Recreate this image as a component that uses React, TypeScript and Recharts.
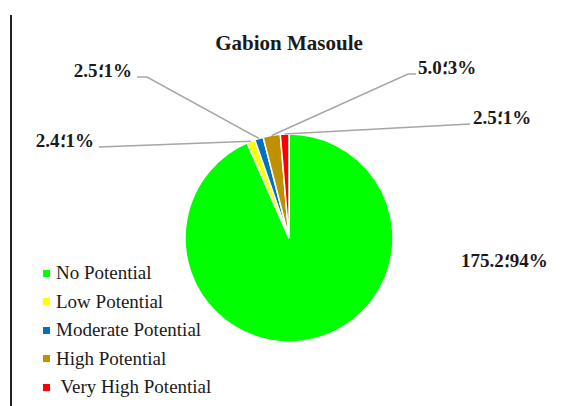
import { PieChart, Pie, Cell } from "recharts";

const categories = [
  "No Potential",
  "Low Potential",
  "Moderate Potential",
  "High Potential",
  " Very High Potential",
];
const values = [175.2, 2.4, 2.5, 5.0, 2.5];
const percentLabels = [94, 1, 1, 3, 1];
const colors = ["#00FF00", "#FFFF00", "#0070C0", "#BF9000", "#FF0000"];

const data = categories.map((name, i) => ({
  name,
  value: values[i],
  pct: percentLabels[i],
}));

const SERIF = "'Liberation Serif', 'DejaVu Serif', serif";
const RAD = Math.PI / 180;

// where each data label sits and how its leader line bends
const labelSpots: { x: number; y: number; anchor: "start" | "end"; bend: number[][] | null }[] = [
  { x: 461, y: 267, anchor: "start", bend: null },
  { x: 94, y: 147, anchor: "end", bend: [[99, 147]] },
  { x: 132, y: 77, anchor: "end", bend: [[147, 77], [137, 77]] },
  { x: 418, y: 74, anchor: "start", bend: [[408, 74], [416, 74]] },
  { x: 473, y: 124, anchor: "start", bend: [[470, 124]] },
];

const renderLabel = (props: any) => {
  const { cx, cy, midAngle, outerRadius, index, value, payload } = props;
  const spot = labelSpots[index];
  const ex = cx + outerRadius * Math.cos(-midAngle * RAD);
  const ey = cy + outerRadius * Math.sin(-midAngle * RAD);
  const pts = spot.bend ? [[ex, ey], ...spot.bend] : null;
  return (
    <g key={`lbl-${index}`}>
      {pts && (
        <polyline
          points={pts.map((p) => p.join(",")).join(" ")}
          fill="none"
          stroke="#A6A6A6"
          strokeWidth={1.5}
        />
      )}
      <text
        x={spot.x}
        y={spot.y}
        textAnchor={spot.anchor}
        fontFamily={SERIF}
        fontWeight={700}
        fontSize={19}
        fill="#1a1a1a"
        style={{ direction: "ltr", unicodeBidi: "bidi-override" }}
      >
        {`${Number(value).toFixed(1)}\u061B${payload.pct}%`}
      </text>
    </g>
  );
};

const LegendList = () => (
  <div
    style={{
      position: "absolute",
      left: 43,
      top: 259,
      fontFamily: SERIF,
      fontSize: 19,
      color: "#1a1a1a",
    }}
  >
    {categories.map((name, i) => (
      <div
        key={`leg-${i}`}
        style={{ display: "flex", alignItems: "center", height: 28.5, whiteSpace: "pre" }}
      >
        <span
          style={{
            display: "inline-block",
            width: 7,
            height: 7,
            background: colors[i],
            marginRight: 6,
          }}
        />
        {name}
      </div>
    ))}
  </div>
);

const App = () => {
  return (
    <div
      style={{
        position: "absolute",
        left: 0,
        top: 0,
        width: 565,
        height: 406,
        background: "#fff",
        overflow: "hidden",
      }}
    >
      <div
        style={{
          position: "absolute",
          left: 10,
          top: 15,
          width: 1.5,
          height: 391,
          background: "#222",
        }}
      />
      <div
        style={{
          position: "absolute",
          left: 0,
          top: 31,
          width: 578,
          textAlign: "center",
          fontFamily: SERIF,
          fontWeight: 700,
          fontSize: 21,
          color: "#1a1a1a",
        }}
      >
        Gabion Masoule
      </div>
      <PieChart
        width={565}
        height={406}
        margin={{ top: 0, right: 0, bottom: 0, left: 0 }}
        style={{ position: "absolute", left: 0, top: 0 }}
      >
        <Pie
          data={data}
          dataKey="value"
          nameKey="name"
          cx={289}
          cy={238}
          outerRadius={104}
          startAngle={90}
          endAngle={-270}
          stroke="#fff"
          strokeWidth={1.5}
          label={renderLabel}
          labelLine={false}
          isAnimationActive={false}
        >
          {data.map((d, i) => (
            <Cell key={`cell-${i}`} fill={colors[i]} />
          ))}
        </Pie>
      </PieChart>
      <LegendList />
    </div>
  );
};

export default App;
